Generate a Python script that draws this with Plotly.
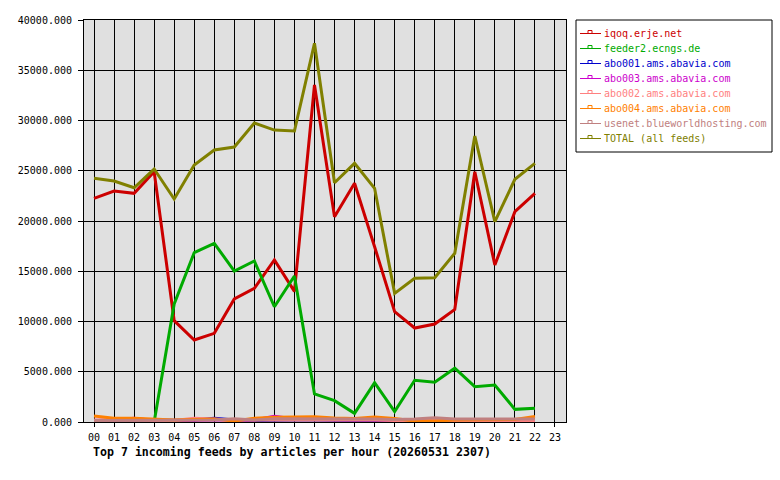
import plotly.graph_objects as go

hours = list(range(23))
tick_labels = [f"{h:02d}" for h in range(24)]

feed_names = [
    "iqoq.erje.net",
    "feeder2.ecngs.de",
    "abo001.ams.abavia.com",
    "abo003.ams.abavia.com",
    "abo002.ams.abavia.com",
    "abo004.ams.abavia.com",
    "usenet.blueworldhosting.com",
    "TOTAL (all feeds)",
]
feed_colors = ["#cc0000", "#00aa00", "#0000cc", "#cc00cc", "#ff8080", "#ff8000", "#c08080", "#808000"]

iqoq = [22260, 22980, 22750, 24900, 10080, 8160, 8820, 12240, 13300, 16120, 13000, 33530,
        20430, 23750, 17440, 10980, 9350, 9750, 11210, 24900, 15620, 20930, 22750]
feeder2 = [50, 50, 50, 0, 11740, 16850, 17780, 15020, 16020, 11470, 14530, 2790,
           2120, 860, 3910, 1030, 4150, 3950, 5350, 3510, 3680, 1260, 1360]
abo001 = [150, 150, 150, 150, 150, 200, 370, 200, 150, 200, 200, 200,
          150, 150, 150, 150, 150, 150, 150, 150, 150, 150, 150]
abo003 = [150, 200, 370, 150, 150, 200, 200, 200, 200, 570, 300, 250,
          200, 200, 200, 150, 150, 150, 150, 150, 150, 150, 150]
abo002 = [200, 200, 200, 150, 150, 370, 250, 200, 200, 200, 250, 250,
          200, 200, 200, 150, 150, 150, 150, 150, 150, 150, 150]
abo004 = [600, 370, 370, 250, 200, 250, 300, 100, 370, 470, 530, 530,
          400, 350, 500, 350, 100, 100, 200, 200, 200, 250, 550]
usenet = [150, 150, 150, 150, 150, 150, 200, 330, 200, 330, 330, 330,
          300, 300, 300, 250, 300, 430, 300, 300, 300, 300, 300]
total = [24250, 23980, 23310, 25170, 22190, 25570, 27060, 27360, 29750, 29050, 28950, 37680,
         23810, 25740, 23250, 12800, 14300, 14360, 16790, 28460, 19930, 24150, 25740]

series = [iqoq, feeder2, abo001, abo003, abo002, abo004, usenet, total]

MONO = "DejaVu Sans Mono"
W, H = 780, 480
L, R, T, B = 84, 214, 20, 58
pw, ph = W - L - R, H - T - B

def px_x(p):
    return (p - L) / pw

def px_y(p):
    return (H - B - p) / ph

fig = go.Figure()
for name, color, vals in zip(feed_names, feed_colors, series):
    fig.add_trace(go.Scatter(x=hours, y=vals, mode="lines", name=name,
                             line=dict(color=color, width=3), showlegend=False,
                             hoverinfo="skip"))

shapes = [dict(type="rect", xref="paper", yref="paper",
               x0=px_x(576), x1=px_x(772), y0=px_y(152), y1=px_y(20),
               fillcolor="white", line=dict(color="black", width=1), layer="above")]
annotations = []
for i, (name, color) in enumerate(zip(feed_names, feed_colors)):
    yc = 33.5 + 15 * i
    shapes.append(dict(type="line", xref="paper", yref="paper",
                       x0=px_x(580), x1=px_x(601), y0=px_y(yc), y1=px_y(yc),
                       line=dict(color=color, width=1), layer="above"))
    shapes.append(dict(type="rect", xref="paper", yref="paper",
                       x0=px_x(588), x1=px_x(592), y0=px_y(yc), y1=px_y(yc - 3),
                       fillcolor="rgba(0,0,0,0)", line=dict(color=color, width=1), layer="above"))
    annotations.append(dict(xref="paper", yref="paper", x=px_x(602), y=px_y(yc),
                            xanchor="left", yanchor="middle", showarrow=False,
                            text=name, font=dict(family=MONO, size=10, color=color)))

annotations.append(dict(xref="paper", yref="paper", x=px_x(91), y=px_y(452),
                        xanchor="left", yanchor="middle", showarrow=False,
                        text="<b>Top 7 incoming feeds by articles per hour (20260531 2307)</b>",
                        font=dict(family=MONO, size=11.6, color="black")))

fig.update_layout(
    width=W, height=H,
    margin=dict(l=L, r=R, t=T, b=B, pad=0),
    paper_bgcolor="white", plot_bgcolor="#e0e0e0",
    showlegend=False,
    shapes=shapes, annotations=annotations,
    font=dict(family=MONO, size=10, color="black"),
    xaxis=dict(range=[-0.5, 23.55], tickvals=list(range(24)), ticktext=tick_labels,
               showgrid=True, gridcolor="black", gridwidth=1, zeroline=False,
               showline=True, linecolor="black", linewidth=1, mirror=True,
               ticks="outside", ticklen=4, tickcolor="black", tickwidth=1,
               ticklabelstandoff=2,
               tickfont=dict(family=MONO, size=10, color="black")),
    yaxis=dict(range=[0, 40000], dtick=5000, tick0=0, tickformat=".3f",
               showgrid=True, gridcolor="black", gridwidth=1, zeroline=False,
               showline=True, linecolor="black", linewidth=1, mirror=True,
               ticks="outside", ticklen=5, tickcolor="black", tickwidth=1,
               ticklabelstandoff=4,
               tickfont=dict(family=MONO, size=10, color="black")),
)

fig.write_html("out.html")
